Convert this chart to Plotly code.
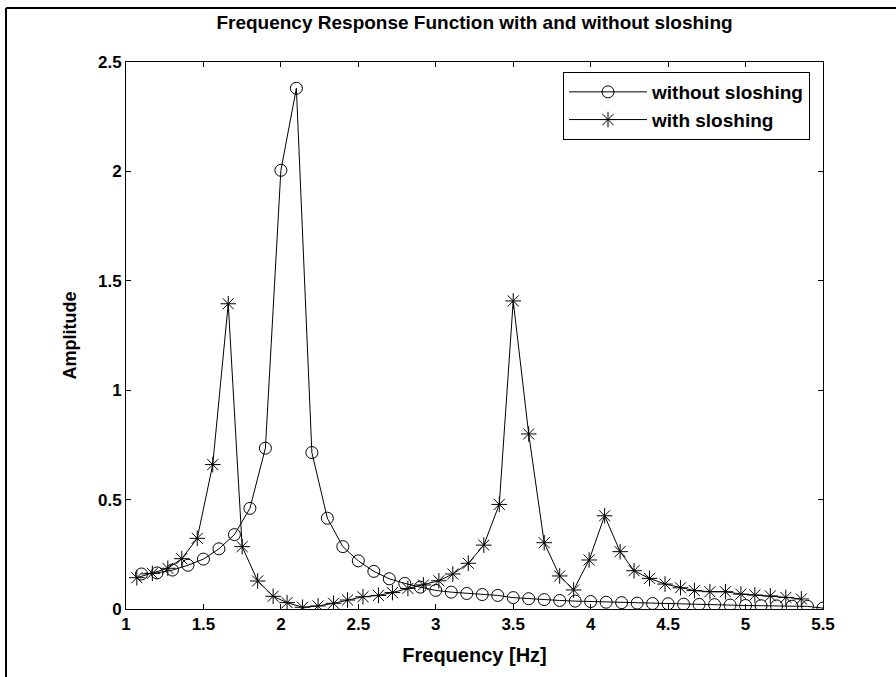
import plotly.graph_objects as go

# Without sloshing (circles)
freq_wo = [1.1, 1.2, 1.3, 1.4, 1.5, 1.6, 1.7, 1.8, 1.9, 2.0, 2.1, 2.2, 2.3, 2.4, 2.5,
           2.6, 2.7, 2.8, 2.9, 3.0, 3.1, 3.2, 3.3, 3.4, 3.5, 3.6, 3.7, 3.8, 3.9, 4.0,
           4.1, 4.2, 4.3, 4.4, 4.5, 4.6, 4.7, 4.8, 4.9, 5.0, 5.1, 5.2, 5.3, 5.4, 5.5]
amp_wo = [0.16, 0.165, 0.178, 0.20, 0.228, 0.275, 0.34, 0.46, 0.735, 2.005, 2.38, 0.715,
          0.415, 0.285, 0.22, 0.172, 0.138, 0.117, 0.10, 0.085, 0.077, 0.071, 0.066,
          0.062, 0.052, 0.047, 0.043, 0.039, 0.036, 0.034, 0.031, 0.029, 0.027, 0.025,
          0.024, 0.022, 0.021, 0.020, 0.018, 0.016, 0.015, 0.014, 0.013, 0.012, 0.004]

# With sloshing (asterisks)
freq_w = [1.07, 1.17, 1.27, 1.36, 1.46, 1.56, 1.66, 1.75, 1.85, 1.95, 2.04, 2.14, 2.24,
          2.34, 2.43, 2.53, 2.63, 2.72, 2.82, 2.92, 3.02, 3.11, 3.21, 3.31, 3.41, 3.50,
          3.60, 3.70, 3.80, 3.89, 3.99, 4.09, 4.19, 4.28, 4.38, 4.48, 4.58, 4.67, 4.77,
          4.87, 4.97, 5.06, 5.16, 5.26, 5.36]
amp_w = [0.143, 0.163, 0.186, 0.23, 0.323, 0.66, 1.395, 0.285, 0.128, 0.058, 0.029,
         0.008, 0.014, 0.026, 0.041, 0.056, 0.062, 0.075, 0.094, 0.11, 0.129, 0.16,
         0.209, 0.292, 0.478, 1.408, 0.80, 0.303, 0.151, 0.087, 0.224, 0.426, 0.262,
         0.175, 0.14, 0.114, 0.097, 0.084, 0.079, 0.079, 0.068, 0.064, 0.06, 0.053, 0.046]

x_ticks = [1, 1.5, 2, 2.5, 3, 3.5, 4, 4.5, 5, 5.5]
x_ticklabels = ["1", "1.5", "2", "2.5", "3", "3.5", "4", "4.5", "5", "5.5"]
y_ticks = [0, 0.5, 1, 1.5, 2, 2.5]
y_ticklabels = ["0", "0.5", "1", "1.5", "2", "2.5"]

FONT = "Liberation Sans, Arial, Helvetica, sans-serif"

fig = go.Figure()
fig.add_trace(go.Scatter(
    x=freq_wo, y=amp_wo, mode="lines+markers", name="without sloshing",
    line=dict(color="black", width=1),
    marker=dict(symbol="circle-open", size=12, color="black", line=dict(width=1)),
))
fig.add_trace(go.Scatter(
    x=freq_w, y=amp_w, mode="lines+markers", name="with sloshing",
    line=dict(color="black", width=1),
    marker=dict(symbol="asterisk-open", size=13, color="black", line=dict(width=1)),
))

axis_common = dict(
    showline=True, linecolor="black", linewidth=1, mirror="ticks",
    ticks="inside", ticklen=5, tickcolor="black", tickwidth=1,
    showgrid=False, zeroline=False,
    tickfont=dict(family=FONT, size=17, color="black", weight="bold"),
)

L, R, T, B = 126, 823, 62, 609
W, H = 896, 677

fig.update_layout(
    width=W, height=H,
    margin=dict(l=L, r=W - R, t=T, b=H - B),
    paper_bgcolor="white", plot_bgcolor="white",
    title=dict(text="Frequency Response Function with and without sloshing",
               x=(L + R) / 2 / W, xanchor="center", y=1 - 22 / H, yanchor="middle",
               font=dict(family=FONT, size=19, color="black", weight="bold")),
    xaxis=dict(range=[1, 5.5], tickvals=x_ticks, ticktext=x_ticklabels,
               title=dict(text="Frequency [Hz]", standoff=14,
                          font=dict(family=FONT, size=20, color="black", weight="bold")),
               **axis_common),
    yaxis=dict(range=[0, 2.5], tickvals=y_ticks, ticktext=y_ticklabels,
               title=dict(text="Amplitude", standoff=16,
                          font=dict(family=FONT, size=18, color="black", weight="bold")),
               **axis_common),
    legend=dict(x=(810 - L) / (R - L), y=(B - 72) / (B - T), xanchor="right", yanchor="top",
                bgcolor="white", bordercolor="black", borderwidth=1,
                font=dict(family=FONT, size=19, color="black", weight="bold"),
                tracegroupgap=0, itemwidth=78),
    showlegend=True,
)

# Outer frame (left and top edges of the figure border)
pw, ph = R - L, B - T
fig.add_shape(type="line", xref="paper", yref="paper",
              x0=(6 - L) / pw, x1=(6 - L) / pw, y0=(B - 690) / ph, y1=(B - 8) / ph,
              line=dict(color="black", width=2))
fig.add_shape(type="line", xref="paper", yref="paper",
              x0=(6 - L) / pw, x1=(910 - L) / pw, y0=(B - 8) / ph, y1=(B - 8) / ph,
              line=dict(color="black", width=2))

fig.write_html("out.html", config={"displayModeBar": False},
               post_script="document.body.style.margin='0';")
